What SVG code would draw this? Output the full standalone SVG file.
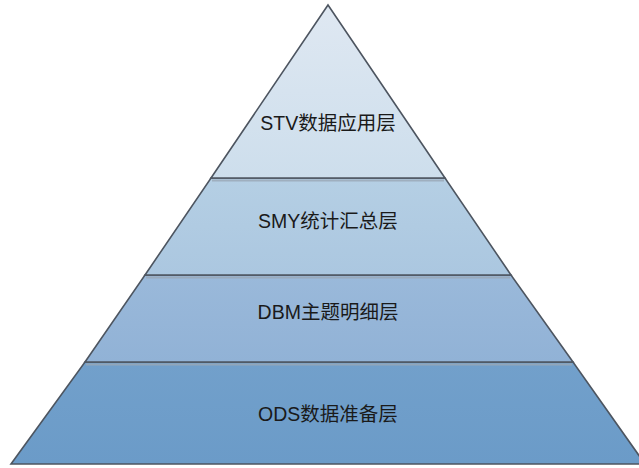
<svg xmlns="http://www.w3.org/2000/svg" width="639" height="468" viewBox="0 0 639 468">
<style>
.layer{stroke:#4d5560;stroke-width:1.6;stroke-linejoin:miter}
.shadow{stroke:#9aa8b6;stroke-width:2;opacity:0.8}
.lbl{font-family:"Liberation Sans","Noto Sans CJK SC",sans-serif;font-size:19.5px;fill:#1a1a1a;text-anchor:middle;dominant-baseline:central}
</style>
<defs>
<linearGradient id="g1" x1="0" y1="0" x2="0" y2="1"><stop offset="0" stop-color="#dfe8f2"/><stop offset="1" stop-color="#cddeec"/></linearGradient>
<linearGradient id="g2" x1="0" y1="0" x2="0" y2="1"><stop offset="0" stop-color="#b5cfe4"/><stop offset="1" stop-color="#abc7e0"/></linearGradient>
<linearGradient id="g3" x1="0" y1="0" x2="0" y2="1"><stop offset="0" stop-color="#9ab9da"/><stop offset="1" stop-color="#91b2d6"/></linearGradient>
<linearGradient id="g4" x1="0" y1="0" x2="0" y2="1"><stop offset="0" stop-color="#72a0cb"/><stop offset="1" stop-color="#6b9bc8"/></linearGradient>
</defs>
<g id="layer-ods">
<polygon class="layer" points="85,362 573,362 645,464 11,464" fill="url(#g4)"/>
<line class="shadow" x1="86" y1="364.5" x2="572" y2="364.5"/>
<text class="lbl" x="328" y="414">ODS数据准备层</text>
</g>
<g id="layer-dbm">
<polygon class="layer" points="145,275 511,275 573,362 85,362" fill="url(#g3)"/>
<line class="shadow" x1="146" y1="277.5" x2="510" y2="277.5"/>
<text class="lbl" x="328" y="312">DBM主题明细层</text>
</g>
<g id="layer-smy">
<polygon class="layer" points="211,178 445,178 511,275 145,275" fill="url(#g2)"/>
<line class="shadow" x1="212" y1="180.5" x2="444" y2="180.5"/>
<text class="lbl" x="328" y="221">SMY统计汇总层</text>
</g>
<g id="layer-stv">
<polygon class="layer" points="328,5 445,178 211,178" fill="url(#g1)"/>
<text class="lbl" x="328" y="123">STV数据应用层</text>
</g>
<g id="connectors"></g>
</svg>
